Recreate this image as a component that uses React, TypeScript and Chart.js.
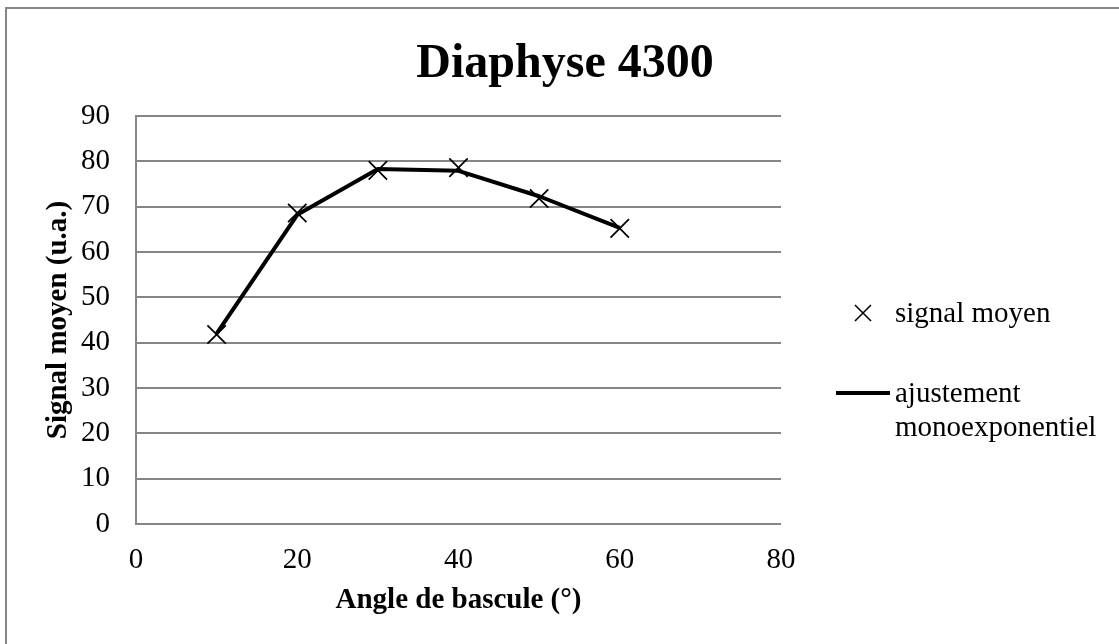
import React, { useEffect, useRef } from "react";
import { Chart, registerables } from "chart.js";

Chart.register(...registerables);

// Flip angle (degrees) and mean signal values
const angles = [10, 20, 30, 40, 50, 60];
const signalMoyen = [41.8, 68.6, 78.0, 78.6, 71.8, 65.2];
const ajustement = [42.0, 68.2, 78.3, 77.9, 72.3, 65.3];

const chartTitle = "Diaphyse 4300";
const xTitle = "Angle de bascule (°)";
const yTitle = "Signal moyen (u.a.)";
const legendPoints = "signal moyen";
const legendFit = ["ajustement", "monoexponentiel"];

const FONT = "'Liberation Serif', 'Times New Roman', serif";
const GRID = "#868686";
const TEXT_SIZE = 29;

// Frame, title and the side legend
const decorations = {
  id: "decorations",
  beforeDraw(chart: Chart) {
    const ctx = chart.ctx;
    ctx.save();
    ctx.fillStyle = "#ffffff";
    ctx.fillRect(0, 0, chart.width, chart.height);
    ctx.strokeStyle = GRID;
    ctx.lineWidth = 2;
    ctx.strokeRect(6, 8, chart.width + 20, chart.height + 20);
    ctx.restore();
  },
  afterDraw(chart: Chart) {
    const ctx = chart.ctx;
    ctx.save();
    ctx.fillStyle = "#000000";
    ctx.textAlign = "center";
    ctx.textBaseline = "alphabetic";
    ctx.font = `bold 48px ${FONT}`;
    ctx.fillText(chartTitle, 565, 77);

    // legend: marker entry
    ctx.strokeStyle = "#000000";
    ctx.lineWidth = 1.6;
    ctx.beginPath();
    ctx.moveTo(855, 305);
    ctx.lineTo(871, 321);
    ctx.moveTo(871, 305);
    ctx.lineTo(855, 321);
    ctx.stroke();
    ctx.textAlign = "left";
    ctx.font = `${TEXT_SIZE}px ${FONT}`;
    ctx.fillText(legendPoints, 895, 322);

    // legend: fitted line entry
    ctx.lineWidth = 4;
    ctx.beginPath();
    ctx.moveTo(836, 393);
    ctx.lineTo(890, 393);
    ctx.stroke();
    ctx.fillText(legendFit[0], 895, 402);
    ctx.fillText(legendFit[1], 895, 436);
    ctx.restore();
  },
};

export default function App() {
  const ref = useRef<HTMLCanvasElement | null>(null);

  useEffect(() => {
    if (!ref.current) return;
    const chart = new Chart(ref.current, {
      type: "scatter",
      data: {
        datasets: [
          {
            label: legendPoints,
            data: angles.map((x, i) => ({ x, y: signalMoyen[i] })),
            pointStyle: "crossRot",
            pointRadius: 13,
            pointBorderWidth: 1.75,
            pointBorderColor: "#000000",
            pointBackgroundColor: "#000000",
            showLine: false,
          },
          {
            label: legendFit.join(" "),
            data: angles.map((x, i) => ({ x, y: ajustement[i] })),
            showLine: true,
            borderColor: "#000000",
            borderWidth: 4,
            borderJoinStyle: "round",
            pointRadius: 0,
            tension: 0,
          },
        ],
      },
      options: {
        responsive: false,
        animation: false,
        events: [],
        layout: { padding: { top: 116, right: 338, bottom: 0, left: 0 } },
        plugins: {
          legend: { display: false },
          tooltip: { enabled: false },
          title: { display: false },
        },
        scales: {
          x: {
            type: "linear",
            min: 0,
            max: 80,
            ticks: {
              stepSize: 20,
              color: "#000000",
              padding: 19,
              font: { family: FONT, size: TEXT_SIZE },
            },
            grid: { display: false, drawTicks: false },
            border: { display: false },
            title: {
              display: true,
              text: xTitle,
              color: "#000000",
              font: { family: FONT, size: TEXT_SIZE, weight: "bold" },
              padding: { top: 0, bottom: 26 },
            },
            afterFit: (s: any) => {
              s.height = 120;
            },
          },
          y: {
            type: "linear",
            min: 0,
            max: 90,
            ticks: {
              stepSize: 10,
              color: "#000000",
              padding: 26,
              font: { family: FONT, size: TEXT_SIZE },
            },
            grid: { color: GRID, lineWidth: 2, drawTicks: false },
            border: { display: true, color: GRID, width: 2 },
            title: {
              display: true,
              text: yTitle,
              color: "#000000",
              font: { family: FONT, size: TEXT_SIZE, weight: "bold" },
              padding: { top: 41, bottom: 0 },
            },
            afterFit: (s: any) => {
              s.width = 136;
            },
          },
        },
      },
      plugins: [decorations],
    });
    return () => chart.destroy();
  }, []);

  return (
    <div style={{ position: "absolute", left: 0, top: 0, width: 1119, height: 644 }}>
      <canvas ref={ref} width={1119} height={644} />
    </div>
  );
}
